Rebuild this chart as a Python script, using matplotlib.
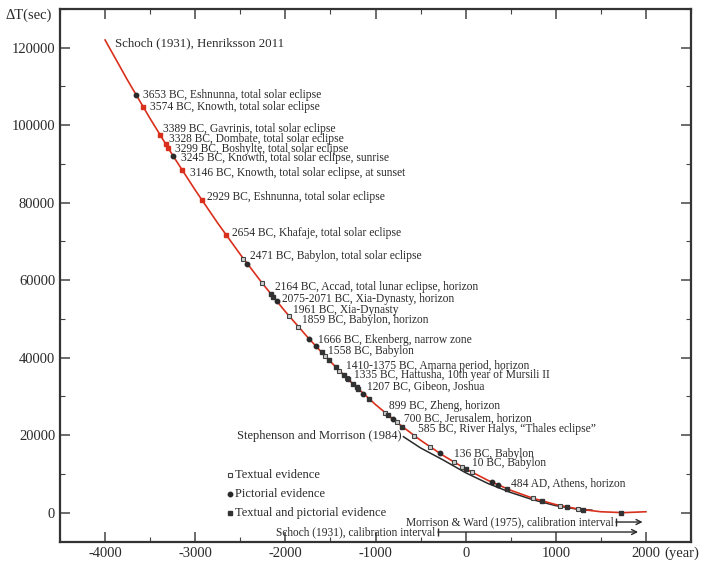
import numpy as np
import matplotlib.pyplot as plt
from matplotlib.ticker import MultipleLocator

plt.rcParams['font.family'] = ['Liberation Serif', 'DejaVu Serif']
plt.rcParams['axes.unicode_minus'] = False

# ---------------------------------------------------------------
# curves
# ---------------------------------------------------------------
schoch_year = [-4000, -3750, -3500, -3250, -3000, -2750, -2500, -2250, -2000,
               -1750, -1500, -1250, -1000, -750, -500, -250, 0, 250, 500,
               750, 1000, 1250, 1500, 1750, 2000]
schoch_dt = [122000, 111600, 101700, 92250, 83260, 74720, 66650, 59040, 51890,
             45200, 38980, 33210, 27900, 23060, 18680, 14760, 11300, 8300, 5770,
             3690, 2080, 920, 230, 0, 230]

sm_year = [-690, -500, -250, 0, 250, 500, 750, 1000, 1250, 1400]
sm_dt = [19600, 16700, 13600, 10300, 7500, 5200, 3300, 1800, 850, 650]

# observations (year, dT)
red_year = [-3574, -3389, -3328, -3299, -3146, -2929, -2654]
red_dt = [104590, 97450, 95150, 94070, 88450, 80790, 71570]

pict_year = [-3653, -3245, -2422, -2096, -1734, -1660, -1135, -810, -285, 288, 362]
pict_dt = [107720, 92070, 64230, 54580, 44790, 42910, 30710, 24180, 15280, 7890, 7110]

text_year = [-2466, -2255, -1956, -1856, -1560, -1402, -1320, -895, -766, -573,
             -396, -130, -44, 66, 750, 1046, 1249]
text_dt = [65590, 59190, 50680, 47980, 40430, 36660, 34780, 25820, 23360, 19910,
           16990, 13040, 11880, 10460, 3690, 1830, 930]

both_year = [-2162, -2133, -1597, -1513, -1438, -1349, -1302, -1246, -1209, -1191,
             -1072, -859, -704, 3, 462, 843, 1120, 1305, 1723]
both_dt = [56470, 55640, 41340, 39290, 37500, 35440, 34370, 33120, 32310, 31920,
           29390, 25120, 22220, 11260, 6120, 3040, 1460, 730, 3]

# event labels
labels = [
    "3653 BC, Eshnunna, total solar eclipse",
    "3574 BC, Knowth, total solar eclipse",
    "3389 BC, Gavrinis, total solar eclipse",
    "3328 BC, Dombate, total solar eclipse",
    "3299 BC, Boshylte, total solar eclipse",
    "3245 BC, Knowth, total solar eclipse, sunrise",
    "3146 BC, Knowth, total solar eclipse, at sunset",
    "2929 BC, Eshnunna, total solar eclipse",
    "2654 BC, Khafaje, total solar eclipse",
    "2471 BC, Babylon, total solar eclipse",
    "2164 BC, Accad, total lunar eclipse, horizon",
    "2075-2071 BC, Xia-Dynasty, horizon",
    "1961 BC, Xia-Dynasty",
    "1859 BC, Babylon, horizon",
    "1666 BC, Ekenberg, narrow zone",
    "1558 BC, Babylon",
    "1410-1375 BC, Amarna period, horizon",
    "1335 BC, Hattusha, 10th year of Mursili II",
    "1207 BC, Gibeon, Joshua",
    "899 BC, Zheng, horizon",
    "700 BC, Jerusalem, horizon",
    "585 BC, River Halys, \u201cThales eclipse\u201d",
    "136 BC, Babylon",
    "10 BC, Babylon",
    "484 AD, Athens, horizon",
]
label_x = [-3575, -3501, -3353, -3287, -3227, -3160, -3061, -2865, -2595, -2392,
           -2115, -2034, -1912, -1819, -1635, -1530, -1327, -1239, -1098, -847,
           -684, -525, -130, 67, 503]
label_y = [107800, 104600, 98960, 96380, 93960, 91560, 87770, 81430, 72160, 66130,
           58240, 55150, 52210, 49630, 44480, 41640, 37960, 35460, 32620, 27470,
           24300, 21470, 15200, 12700, 7470]

RED = '#d8301c'
INK = '#2a2a2a'

fig = plt.figure(figsize=(7.05, 5.69), dpi=100)
ax = fig.add_axes([60 / 705, (569 - 541.7) / 569, (691 - 60) / 705, (541.7 - 9) / 569])

ax.plot(schoch_year, schoch_dt, color=RED, lw=1.2, zorder=3)
ax.plot(sm_year, sm_dt, color=INK, lw=1.1, zorder=2)

ax.plot(red_year, red_dt, 's', ms=3.0, color=RED, zorder=4)
ax.plot(pict_year, pict_dt, 'o', ms=3.2, color=INK, zorder=4)
ax.plot(text_year, text_dt, 's', ms=3.4, mfc='#cfcfcf', mec='#444444', mew=0.8, zorder=4)
ax.plot(both_year, both_dt, 's', ms=3.2, color='#333333', zorder=4)

for t, x, y in zip(labels, label_x, label_y):
    ax.text(x, y, t, fontsize=8.3, color=INK, va='center', ha='left')

ax.text(-3889, 121220, "Schoch (1931), Henriksson 2011", fontsize=9.3,
        color=INK, va='center', ha='left')
ax.text(-710, 19740, "Stephenson and Morrison (1984)", fontsize=9,
        color=INK, va='center', ha='right')

# legend, hand made like the original
ax.plot([-2614], [9610], 's', ms=3.4, mfc='white', mec='#444444', mew=0.8)
ax.plot([-2614], [4720], 'o', ms=3.2, color=INK)
ax.plot([-2614], [0], 's', ms=3.2, color='#333333')
for y, t in zip([9610, 4720, 0], ["Textual evidence", "Pictorial evidence",
                                  "Textual and pictorial evidence"]):
    ax.text(-2558, y, t, fontsize=9, color=INK, va='center', ha='left')

# calibration intervals
for x0, x1, y, t in [(1667, 1963, -2420, "Morrison & Ward (1975), calibration interval"),
                     (-307, 1913, -5000, "Schoch (1931), calibration interval")]:
    ax.annotate('', xy=(x1, y), xytext=(x0, y),
                arrowprops=dict(arrowstyle='->', color=INK, lw=1.0,
                                shrinkA=0, shrinkB=0, mutation_scale=9))
    ax.plot([x0], [y], '|', ms=6, mew=1.0, color=INK)
    ax.text(x0 - 26, y, t, fontsize=8.3, color=INK, va='center', ha='right')

ax.set_xlim(-4500, 2500)
ax.set_ylim(-7500, 130000)
ax.xaxis.set_major_locator(MultipleLocator(1000))
ax.xaxis.set_minor_locator(MultipleLocator(500))
ax.yaxis.set_major_locator(MultipleLocator(20000))
ax.yaxis.set_minor_locator(MultipleLocator(10000))
ax.set_xticks(range(-4000, 2001, 1000))
ax.set_yticks(range(0, 120001, 20000))

ax.tick_params(which='both', direction='in', top=True, right=True,
               colors='#444444', labelcolor=INK, labelsize=10.5)
ax.tick_params(which='major', length=7, width=1.1)
ax.tick_params(which='minor', length=3.5, width=0.8)
for s in ax.spines.values():
    s.set_linewidth(1.6)
    s.set_color('#333333')

ax.annotate('(year)', xy=(2000, 0), xycoords=ax.get_xaxis_transform(),
            xytext=(13, -3.5), textcoords='offset points',
            va='top', ha='left', fontsize=10.5, color=INK)
fig.text(5 / 705, 1 - 15 / 569, '\u0394T(sec)', fontsize=10.5, color=INK,
         va='center', ha='left')

fig.savefig('out.png', dpi=100)
